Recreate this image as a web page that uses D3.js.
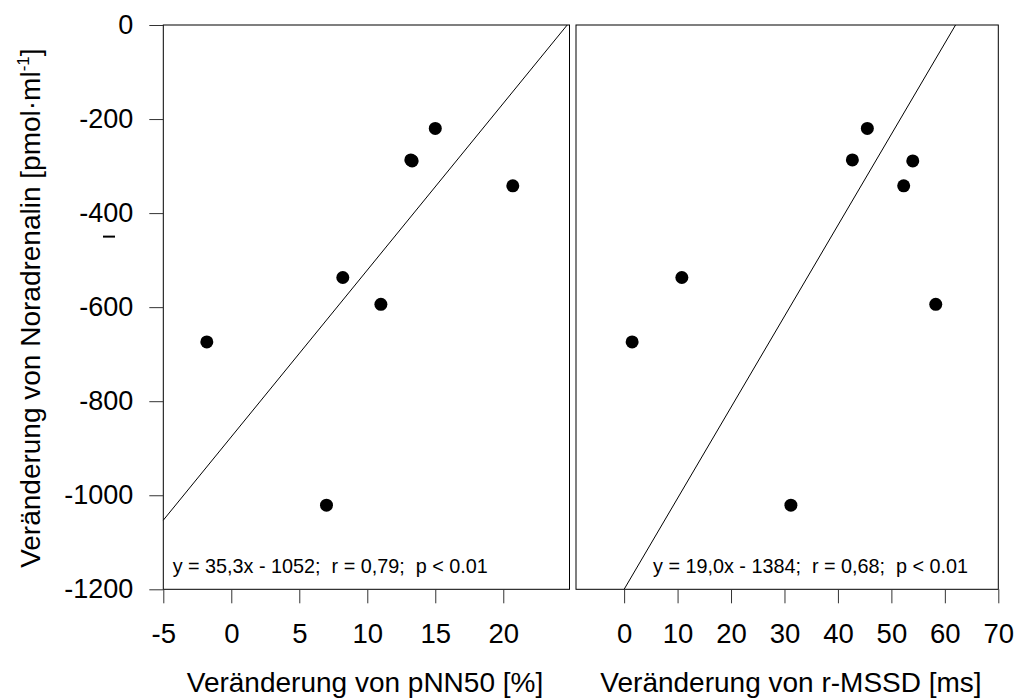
<!DOCTYPE html>
<html>
<head>
<meta charset="utf-8">
<script src="https://cdn.jsdelivr.net/npm/d3@7"></script>
<style>
  body { margin: 0; background: #fff; }
  text { font-family: "Liberation Sans", Arial, sans-serif; fill: #000; }
</style>
</head>
<body>
<svg id="chart"></svg>
<script>
// values
const noradrenalin = [-674, -1021, -537, -594, -287, -289, -220, -342];
const pnn50 = [-1.8, 7.0, 8.2, 11.0, 13.2, 13.3, 15.0, 20.7];
const rmssd = [1.5, 31.2, 10.8, 58.3, 42.7, 54.0, 45.5, 52.3];

const yTicks = [0, -200, -400, -600, -800, -1000, -1200];
const pnnTicks = [-5, 0, 5, 10, 15, 20];
const rmssdTicks = [0, 10, 20, 30, 40, 50, 60, 70];

// regression lines as drawn (end points)
const pnnFitX = [-5, 24.7];
const pnnFitY = [-1053, 0];
const rmssdFitX = [0, 62];
const rmssdFitY = [-1200, 0];

const pnnText = "y = 35,3x - 1052;  r = 0,79;  p < 0.01";
const rmssdText = "y = 19,0x - 1384;  r = 0,68;  p < 0.01";

let width = 1017;
let height = 698;

var svg = d3.select("#chart")
    .attr("width", width)
    .attr("height", height);

let top_y = 25, bottom_y = 589.3;

var y = d3.scaleLinear().domain([-1200, 0]).range([bottom_y, top_y]);
var x1 = d3.scaleLinear().domain([-5, 24.87]).range([163.3, 569.5]);
var x2 = d3.scaleLinear().domain([-9, 70]).range([576, 998.3]);

// plain hyphen, no thousands separator
var fmt = d => String(d);

function drawPanel(x, ticks, xs, fitX, fitY, label, labelX, note, noteX, withY) {
    var g = svg.append("g");

    // frame
    g.append("rect")
        .attr("x", x.range()[0])
        .attr("y", top_y)
        .attr("width", x.range()[1] - x.range()[0])
        .attr("height", bottom_y - top_y)
        .attr("fill", "none")
        .attr("stroke", "#000")
        .attr("stroke-width", 1);

    var xAxis = g.append("g")
        .attr("transform", "translate(0," + bottom_y + ")")
        .call(d3.axisBottom(x).tickValues(ticks).tickFormat(fmt).tickSize(14).tickSizeOuter(0).tickPadding(20));
    xAxis.select(".domain").remove();
    xAxis.selectAll("line").attr("stroke", "#333");
    xAxis.selectAll("text").style("font-size", "27.5px").attr("font-family", null);

    if (withY) {
        var yAxis = g.append("g")
            .attr("transform", "translate(" + x.range()[0] + ",0)")
            .call(d3.axisLeft(y).tickValues(yTicks).tickFormat(fmt).tickSize(14).tickSizeOuter(0).tickPadding(16));
        yAxis.select(".domain").remove();
        yAxis.selectAll("line").attr("stroke", "#333");
        yAxis.selectAll("text").style("font-size", "27px").attr("font-family", null);
    }

    // fit line
    var line = d3.line()
        .x(d => x(d[0]))
        .y(d => y(d[1]));
    g.append("path")
        .datum(d3.zip(fitX, fitY))
        .attr("d", line)
        .attr("fill", "none")
        .attr("stroke", "#000")
        .attr("stroke-width", 1);

    g.selectAll("circle")
        .data(d3.zip(xs, noradrenalin))
        .enter().append("circle")
        .attr("cx", d => x(d[0]))
        .attr("cy", d => y(d[1]))
        .attr("r", 6.5)
        .attr("fill", "#000");

    g.append("text")
        .attr("x", noteX)
        .attr("y", 573)
        .attr("xml:space", "preserve")
        .style("white-space", "pre")
        .style("font-size", "19.8px")
        .text(note);

    g.append("text")
        .attr("x", labelX)
        .attr("y", 692)
        .attr("text-anchor", "middle")
        .style("font-size", "28px")
        .text(label);
}

drawPanel(x1, pnnTicks, pnn50, pnnFitX, pnnFitY, "Veränderung von pNN50 [%]", 365, pnnText, 172.7, true);
drawPanel(x2, rmssdTicks, rmssd, rmssdFitX, rmssdFitY, "Veränderung von r-MSSD [ms]", 791, rmssdText, 653, false);

// y axis title
var yt = svg.append("text")
    .attr("transform", "translate(40," + ((top_y + bottom_y) / 2 + 1) + ") rotate(-90)")
    .attr("text-anchor", "middle")
    .style("font-size", "28px");
yt.append("tspan").text("Veränderung von Noradrenalin [pmol·ml");
yt.append("tspan").attr("dy", "-11").style("font-size", "17px").text("-1");
yt.append("tspan").attr("dy", "11").text("]");

// stray dash in the original figure
svg.append("line")
    .attr("x1", 103)
    .attr("x2", 115)
    .attr("y1", y(-450))
    .attr("y2", y(-450))
    .attr("stroke", "#000")
    .attr("stroke-width", 2);
</script>
</body>
</html>
